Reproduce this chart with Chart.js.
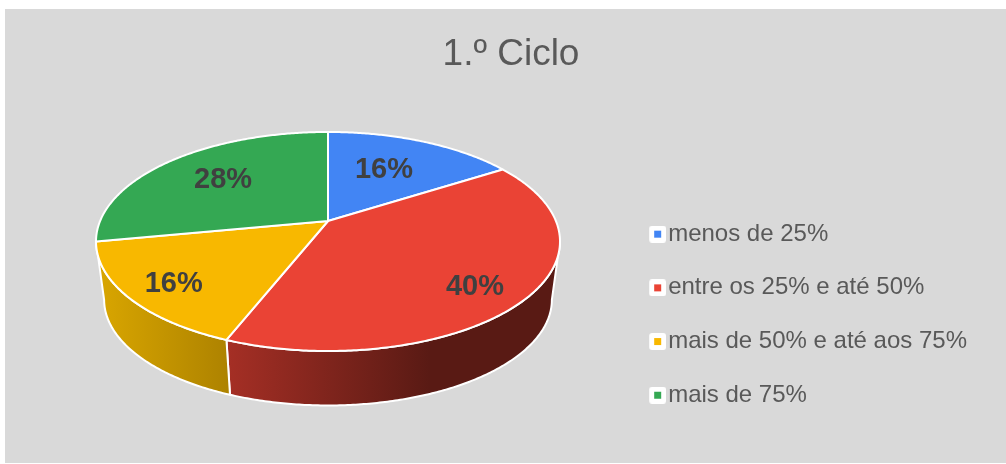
<!DOCTYPE html>
<html>
<head>
<meta charset="utf-8">
<title>1.º Ciclo</title>
<script src="https://cdn.jsdelivr.net/npm/chart.js@4"></script>
<style>
  html, body { margin: 0; padding: 0; background: #ffffff; }
  #panel { position: absolute; left: 5px; top: 9px; width: 1001px; height: 454px; background: #d9d9d9; }
  #wrap { position: absolute; left: 0; top: 0; width: 1006px; height: 464px; }
</style>
</head>
<body>
<div id="panel"></div>
<div id="wrap"><canvas id="myChart" width="1006" height="464"></canvas></div>
<script>
const chartTitle = "1.º Ciclo";
const categories = ["menos de 25%", "entre os 25% e até 50%", "mais de 50% e até aos 75%", "mais de 75%"];
const values = [16, 40, 16, 28];
const valueLabels = ["16%", "40%", "16%", "28%"];
const colors = ["#4285f4", "#ea4335", "#f8b800", "#34a853"];

// how far out each label sits on its slice, 0 = apex, 1 = rim, then a small pixel nudge
const labelRadius = [0.6, 0.78, 0.8, 0.65];
const labelNudgeX = [-4, -4, 1, 1];
const labelNudgeY = [0, 8, 3, 0];

const FONT = '"Liberation Sans", Arial, sans-serif';

// the tilted disc: apex position, half sizes and perspective
const tilt = { cx: 328, cy: 221, rx: 227.9, ry: 105.7, k: -0.187 };
// rim of the underside: same disc, a bit smaller and lower
const under = { scale: 0.965, cy: 280 };

// wall shading left to right, only the slices that show a wall
const wallShades = {
  1: { from: 225, to: 430, stops: ["#a62f25", "#591a14"] },
  2: { from: 98, to: 230, stops: ["#d9a600", "#ad8200"] }
};

function project(angle, f) {
  const u = f * Math.cos(angle);
  const v = f * Math.sin(angle);
  const w = 1 + tilt.k * v;
  return { x: tilt.cx + tilt.rx * u / w, y: tilt.cy + tilt.ry * v / w };
}

function projectUnder(angle) {
  const p = project(angle, 1);
  return {
    x: tilt.cx + (p.x - tilt.cx) * under.scale,
    y: under.cy + (p.y - tilt.cy) * under.scale
  };
}

function traceRim(ctx, start, end, fn) {
  const steps = Math.max(2, Math.ceil(Math.abs(end - start) / 0.01));
  for (let i = 0; i <= steps; i++) {
    const p = fn(start + (end - start) * i / steps);
    ctx.lineTo(p.x, p.y);
  }
}

const tiltedPie = {
  id: "tiltedPie",
  beforeDatasetDraw(chart) {
    const ctx = chart.ctx;
    const arcs = chart.getDatasetMeta(0).data;
    const edge = Math.asin(-tilt.k);   // where the rim turns away from the viewer

    ctx.save();
    ctx.lineJoin = "round";

    // walls first, the top face covers whatever is behind
    arcs.forEach((arc, i) => {
      const start = Math.max(arc.startAngle, edge);
      const end = Math.min(arc.endAngle, Math.PI - edge);
      if (end <= start || !wallShades[i]) return;
      const shade = wallShades[i];
      const grad = ctx.createLinearGradient(shade.from, 0, shade.to, 0);
      grad.addColorStop(0, shade.stops[0]);
      grad.addColorStop(1, shade.stops[1]);
      ctx.beginPath();
      traceRim(ctx, start, end, a => project(a, 1));
      traceRim(ctx, end, start, projectUnder);
      ctx.closePath();
      ctx.fillStyle = grad;
      ctx.fill();
      ctx.strokeStyle = "#ffffff";
      ctx.lineWidth = 2;
      ctx.stroke();
    });

    arcs.forEach((arc, i) => {
      const apex = project(0, 0);
      ctx.beginPath();
      ctx.moveTo(apex.x, apex.y);
      traceRim(ctx, arc.startAngle, arc.endAngle, a => project(a, 1));
      ctx.closePath();
      ctx.fillStyle = colors[i];
      ctx.fill();
      ctx.strokeStyle = "#ffffff";
      ctx.lineWidth = 2;
      ctx.stroke();
    });

    ctx.font = "bold 29px " + FONT;
    ctx.fillStyle = "#404040";
    ctx.textAlign = "center";
    ctx.textBaseline = "middle";
    arcs.forEach((arc, i) => {
      const p = project((arc.startAngle + arc.endAngle) / 2, labelRadius[i]);
      ctx.fillText(valueLabels[i], p.x + labelNudgeX[i], p.y + labelNudgeY[i]);
    });
    ctx.restore();
    return false;
  }
};

function legendSwatch(color) {
  const c = document.createElement("canvas");
  c.width = 21;
  c.height = 17;
  const g = c.getContext("2d");
  g.fillStyle = "#ffffff";
  g.beginPath();
  g.roundRect(4, 0, 17, 17, 3);
  g.fill();
  g.fillStyle = color;
  g.fillRect(9, 5, 7, 7);
  return c;
}

const ctx = document.getElementById("myChart").getContext("2d");
const myChart = new Chart(ctx, {
  type: "pie",
  data: {
    labels: categories,
    datasets: [{ data: values, backgroundColor: colors }]
  },
  plugins: [tiltedPie],
  options: {
    responsive: false,
    animation: false,
    layout: { padding: { left: 45, right: 29, top: 10, bottom: 0 } },
    plugins: {
      tooltip: { enabled: false },
      title: {
        display: true,
        text: chartTitle,
        color: "#595959",
        font: { family: FONT, size: 37, weight: "normal" },
        padding: { top: 23, bottom: 88 }
      },
      legend: {
        position: "right",
        fullSize: false,
        labels: {
          color: "#595959",
          font: { family: FONT, size: 24 },
          usePointStyle: true,
          boxWidth: 1,
          boxHeight: 1,
          padding: 29.7,
          generateLabels(chart) {
            return chart.data.labels.map((text, i) => ({
              text,
              fontColor: "#595959",
              pointStyle: legendSwatch(colors[i]),
              hidden: false,
              index: i
            }));
          }
        }
      }
    }
  }
});
</script>
</body>
</html>
